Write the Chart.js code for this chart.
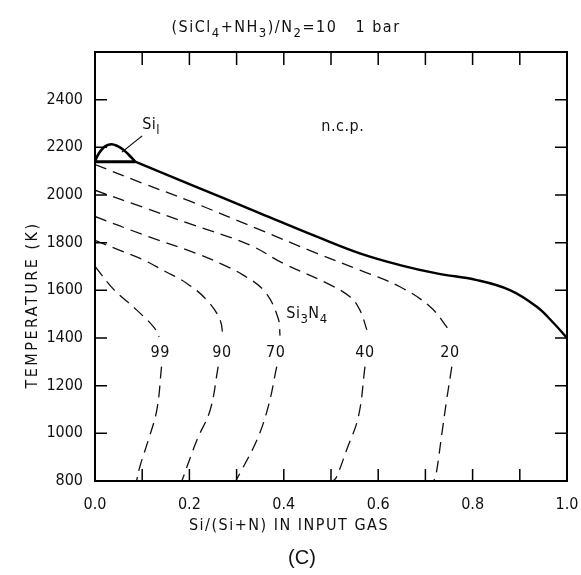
<!DOCTYPE html>
<html>
<head>
<meta charset="utf-8">
<script src="https://cdn.jsdelivr.net/npm/chart.js@4/dist/chart.umd.min.js"></script>
<style>
  html, body { margin: 0; padding: 0; background: #fff; }
  #wrap { width: 581px; height: 575px; }
</style>
</head>
<body>
<div id="wrap"><canvas id="phase" width="581" height="575"></canvas></div>
<script>
// axis ticks
const xTicks = [0, 0.2, 0.4, 0.6, 0.8, 1.0];
const xTickLabels = ['0.0', '0.2', '0.4', '0.6', '0.8', '1.0'];
const yTicks = [800, 1000, 1200, 1400, 1600, 1800, 2000, 2200, 2400];

// liquid Si dome and its flat base
const domeX = [0, 0.004, 0.012, 0.022, 0.035, 0.048, 0.06, 0.071, 0.085];
const domeT = [2140, 2160, 2185, 2205, 2213, 2205, 2190, 2170, 2140];
const baseX = [0, 0.085];
const baseT = [2140, 2140];

// n.c.p. boundary (solid)
const boundX = [0.085, 0.2, 0.35, 0.47, 0.561, 0.646, 0.724, 0.809, 0.879, 0.936, 0.972, 1.0];
const boundT = [2140, 2046, 1923, 1825, 1755, 1706, 1671, 1643, 1601, 1531, 1462, 1400];

// dashed iso-lines (null = break for the number label)
const c99X = [0, 0.039, 0.088, 0.124, 0.136, null, 0.141, 0.131, 0.113, 0.095, 0.088];
const c99T = [1700, 1605, 1518, 1447, 1405, null, 1280, 1098, 972, 860, 800];
const c90X = [0, 0.05, 0.1, 0.148, 0.194, 0.237, 0.265, 0.271, null, 0.261, 0.244, 0.216, 0.184];
const c90T = [1810, 1770, 1730, 1680, 1630, 1559, 1476, 1405, null, 1280, 1098, 972, 800];
const c70X = [0, 0.1, 0.215, 0.265, 0.314, 0.36, 0.388, 0.392, null, 0.385, 0.367, 0.343, 0.307, 0.298];
const c70T = [1910, 1835, 1755, 1713, 1664, 1594, 1483, 1410, null, 1280, 1112, 972, 832, 800];
const c40X = [0, 0.1, 0.2, 0.328, 0.399, 0.491, 0.54, 0.561, 0.576, null, 0.572, 0.558, 0.533, 0.512, 0.505];
const c40T = [2020, 1950, 1880, 1790, 1713, 1630, 1573, 1518, 1434, null, 1280, 1070, 930, 818, 800];
const c20X = [0, 0.1, 0.2, 0.342, 0.47, 0.561, 0.646, 0.71, 0.745, 0.752, null, 0.756, 0.745, 0.735, 0.723, 0.718];
const c20T = [2128, 2050, 1975, 1860, 1755, 1685, 1615, 1531, 1447, 1421, null, 1280, 1140, 1000, 832, 800];

// curve numbers: [text, x, T]
const curveLabels = [['99', 0.138, 1337], ['90', 0.269, 1337], ['70', 0.383, 1337], ['40', 0.572, 1337], ['20', 0.752, 1337]];

const FONT = '"DejaVu Sans Condensed", "DejaVu Sans", sans-serif';

function pts(xs, ys) {
    return xs.map((x, i) => ({ x: x, y: ys[i] }));
}

function dashed(xs, ys) {
    return {
        data: pts(xs, ys), showLine: true, borderColor: '#111', borderWidth: 1.3,
        borderDash: [12, 7], pointRadius: 0, tension: 0.4, spanGaps: false
    };
}

// draws text with sub/superscripts, parts = [[text, 'n'|'sub'|'sup'], ...]
function drawRich(ctx, parts, x, y, size, align) {
    const small = Math.round(size * 0.8);
    let w = 0;
    parts.forEach(p => {
        ctx.font = (p[1] === 'n' ? size : small) + 'px ' + FONT;
        w += ctx.measureText(p[0]).width;
    });
    let cx = align === 'center' ? x - w / 2 : x;
    ctx.textBaseline = 'alphabetic';
    ctx.textAlign = 'left';
    parts.forEach(p => {
        ctx.font = (p[1] === 'n' ? size : small) + 'px ' + FONT;
        let dy = p[1] === 'sub' ? size * 0.3 : (p[1] === 'sup' ? -size * 0.4 : 0);
        ctx.fillText(p[0], cx, y + dy);
        cx += ctx.measureText(p[0]).width;
    });
}

const framePlugin = {
    id: 'frame',
    afterDraw(chart) {
        const ctx = chart.ctx;
        const a = chart.chartArea;
        const xs = chart.scales.x, ys = chart.scales.y;
        ctx.save();
        ctx.strokeStyle = '#000';
        ctx.fillStyle = '#111';
        ctx.lineWidth = 2;
        ctx.strokeRect(a.left, a.top, a.right - a.left, a.bottom - a.top);

        // inward ticks
        ctx.lineWidth = 1.5;
        ctx.beginPath();
        for (let i = 1; i < 10; i++) {
            const px = xs.getPixelForValue(i / 10);
            ctx.moveTo(px, a.bottom); ctx.lineTo(px, a.bottom - 12);
            ctx.moveTo(px, a.top); ctx.lineTo(px, a.top + 13);
        }
        yTicks.slice(1).forEach(v => {
            const py = ys.getPixelForValue(v);
            ctx.moveTo(a.left, py); ctx.lineTo(a.left + 12, py);
            ctx.moveTo(a.right, py); ctx.lineTo(a.right - 12, py);
        });
        ctx.stroke();

        // title
        ctx.letterSpacing = '1.5px';
        drawRich(ctx, [['(SiCl', 'n'], ['4', 'sub'], ['+NH', 'n'], ['3', 'sub'], [')/N', 'n'], ['2', 'sub'], ['=10   1 bar', 'n']], 286, 32, 16, 'center');

        // axis titles
        ctx.font = '16px ' + FONT;
        ctx.textAlign = 'center';
        ctx.textBaseline = 'middle';
        ctx.fillText('Si/(Si+N) IN INPUT GAS', 289, 526);
        ctx.save();
        ctx.letterSpacing = '2.5px';
        ctx.translate(33, 305);
        ctx.rotate(-Math.PI / 2);
        ctx.fillText('TEMPERATURE (K)', 0, 0);
        ctx.restore();
        ctx.letterSpacing = '0px';

        ctx.font = '20px "Liberation Sans", Arial, sans-serif';
        ctx.fillText('(C)', 302, 558);

        // labels inside plot
        ctx.font = '16px ' + FONT;
        ctx.letterSpacing = '0.5px';
        curveLabels.forEach(l => {
            ctx.fillText(l[0], xs.getPixelForValue(l[1]), ys.getPixelForValue(l[2]));
        });
        ctx.fillText('n.c.p.', xs.getPixelForValue(0.525), ys.getPixelForValue(2285));
        drawRich(ctx, [['Si', 'n'], ['l', 'sub']], xs.getPixelForValue(0.1), ys.getPixelForValue(2275), 16, 'left');
        drawRich(ctx, [['Si', 'n'], ['3', 'sub'], ['N', 'n'], ['4', 'sub']], xs.getPixelForValue(0.449), ys.getPixelForValue(1482), 16, 'center');
        ctx.letterSpacing = '0px';

        // leader line to the Si liquid region
        ctx.lineWidth = 1.2;
        ctx.beginPath();
        ctx.moveTo(xs.getPixelForValue(0.1), ys.getPixelForValue(2248));
        ctx.lineTo(xs.getPixelForValue(0.057), ys.getPixelForValue(2180));
        ctx.stroke();
        ctx.restore();
    }
};

new Chart(document.getElementById('phase'), {
    type: 'scatter',
    data: {
        datasets: [
            dashed(c99X, c99T),
            dashed(c90X, c90T),
            dashed(c70X, c70T),
            dashed(c40X, c40T),
            dashed(c20X, c20T),
            { data: pts(boundX, boundT), showLine: true, borderColor: '#000', borderWidth: 2.4, pointRadius: 0, tension: 0.4 },
            { data: pts(domeX, domeT), showLine: true, borderColor: '#000', borderWidth: 2.6, pointRadius: 0, tension: 0.4 },
            { data: pts(baseX, baseT), showLine: true, borderColor: '#000', borderWidth: 3, pointRadius: 0, tension: 0 }
        ]
    },
    options: {
        responsive: false,
        animation: false,
        devicePixelRatio: 1,
        layout: { padding: { top: 52, right: 14, left: 0, bottom: 0 } },
        plugins: { legend: { display: false }, tooltip: { enabled: false } },
        scales: {
            x: {
                type: 'linear', min: 0, max: 1,
                grid: { display: false, drawTicks: false },
                border: { display: false },
                afterBuildTicks: s => { s.ticks = xTicks.map(v => ({ value: v })); },
                afterFit: s => { s.height = 94; s.paddingLeft = 0; s.paddingRight = 0; },
                ticks: {
                    padding: 14, color: '#111', maxRotation: 0,
                    font: { family: FONT, size: 16 },
                    callback: (v, i) => xTickLabels[i]
                }
            },
            y: {
                type: 'linear', min: 800, max: 2600,
                grid: { display: false, drawTicks: false },
                border: { display: false },
                afterBuildTicks: s => { s.ticks = yTicks.map(v => ({ value: v })); },
                afterFit: s => { s.width = 95; s.paddingTop = 0; s.paddingBottom = 0; },
                ticks: {
                    padding: 12, color: '#111',
                    font: { family: FONT, size: 16 },
                    callback: v => String(v)
                }
            }
        }
    },
    plugins: [framePlugin]
});
</script>
</body>
</html>
